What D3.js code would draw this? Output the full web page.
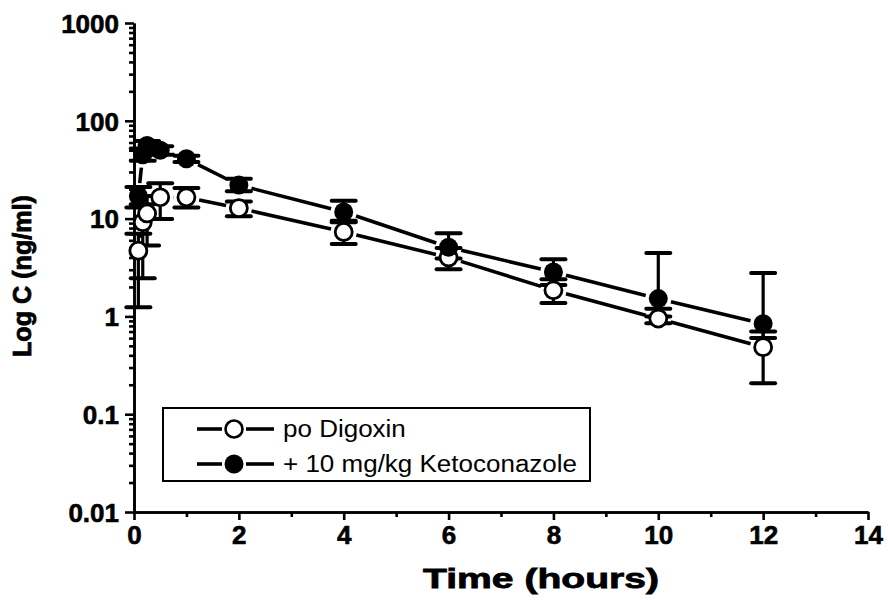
<!DOCTYPE html>
<html>
<head>
<meta charset="utf-8">
<script src="https://cdn.jsdelivr.net/npm/d3@7"></script>
<style>
  body { margin: 0; background: #fff; }
  text { font-family: "Liberation Sans", Arial, sans-serif; fill: #000; }
</style>
</head>
<body>
<div id="chart"></div>
<script>
// sampling times (hours)
var times = [0.083, 0.167, 0.25, 0.5, 1, 2, 4, 6, 8, 10, 12];

// po Digoxin (open circles)
var poMean = [4.7, 9.2, 11.3, 16.5, 16.5, 12.8, 7.3, 4.0, 1.85, 0.95, 0.485];
var poLow  = [1.24, 2.45, 5.3, 9.9, 13, 10.6, 5.5, 3.03, 1.37, 0.85, 0.207];
var poHigh = [7, 14, 17, 23, 20.5, 15, 9.5, 5.0, 2.4, 1.2, 0.7];

// + 10 mg/kg Ketoconazole (filled circles)
var ketoMean = [17, 45, 56, 50, 41, 22, 11.7, 5.1, 2.84, 1.52, 0.84];
var ketoLow  = [13, 39, 50, 45, 38, 19, 9.2, 3.9, 2.1, 1.0, 0.6];
var ketoHigh = [21, 52, 62, 55, 44, 25.5, 15.2, 7.1, 3.84, 4.46, 2.78];

var xMajor = [0, 2, 4, 6, 8, 10, 12, 14];
var xMinor = [1, 3, 5, 7, 9, 11, 13];
var yMajor = [0.01, 0.1, 1, 10, 100, 1000];
var legendLabels = ['po Digoxin', '+ 10 mg/kg Ketoconazole'];

var width = 888, height = 600;
var svg = d3.select('#chart').append('svg')
  .attr('width', width).attr('height', height);

var x = d3.scaleLinear().domain([0, 14]).range([134, 868]);
var y = d3.scaleLog().domain([0.01, 1000]).range([512, 23]);

// minor ticks on log axis: 2..9 of each decade
var yMinor = [];
yMajor.slice(0, -1).forEach(function(d){
  for (var k = 2; k < 10; k++) yMinor.push(d * k);
});

function styleAxis(g){
  g.selectAll('path, line').attr('stroke', '#000').attr('stroke-width', 2.6);
  g.selectAll('text').attr('font-size', 26).attr('font-weight', 'bold').attr('fill', '#000')
    .attr('stroke', '#000').attr('stroke-width', 0.6);
}

// y axis
svg.append('g').attr('transform', 'translate(' + x(0) + ',0)')
  .call(d3.axisLeft(y).tickValues(yMinor).tickSize(5).tickSizeOuter(0).tickFormat(''))
  .call(styleAxis);
svg.append('g').attr('transform', 'translate(' + x(0) + ',0)')
  .call(d3.axisLeft(y).tickValues(yMajor).tickSize(9).tickSizeOuter(0).tickPadding(6)
    .tickFormat(function(d){ return d3.format('~g')(d); }))
  .call(styleAxis)
  .selectAll('text').attr('dy', '0.36em');

// x axis
svg.append('g').attr('transform', 'translate(0,' + y(0.01) + ')')
  .call(d3.axisBottom(x).tickValues(xMinor).tickSize(5).tickSizeOuter(0).tickFormat(''))
  .call(styleAxis);
svg.append('g').attr('transform', 'translate(0,' + y(0.01) + ')')
  .call(d3.axisBottom(x).tickValues(xMajor).tickSize(8).tickSizeOuter(0).tickPadding(6))
  .call(styleAxis);

// axis titles
svg.append('text').attr('x', 541).attr('y', 588)
  .attr('text-anchor', 'middle').attr('font-size', 28).attr('font-weight', 'bold')
  .attr('stroke', '#000').attr('stroke-width', 0.8)
  .attr('textLength', 236).attr('lengthAdjust', 'spacingAndGlyphs')
  .text('Time (hours)');
svg.append('text').attr('transform', 'translate(31,276) rotate(-90)')
  .attr('text-anchor', 'middle').attr('font-size', 25).attr('font-weight', 'bold')
  .attr('stroke', '#000').attr('stroke-width', 0.8)
  .attr('textLength', 162).attr('lengthAdjust', 'spacingAndGlyphs')
  .text('Log C (ng/ml)');

// build series
function series(mean, lo, hi){
  return times.map(function(t, i){
    return { t: t, v: mean[i], lo: lo[i], hi: hi[i] };
  });
}
var data = [
  { name: legendLabels[0], filled: false, pts: series(poMean, poLow, poHigh) },
  { name: legendLabels[1], filled: true,  pts: series(ketoMean, ketoLow, ketoHigh) }
];

var gap = 13;
// connecting lines, broken around the markers
data.forEach(function(s){
  for (var i = 0; i < s.pts.length - 1; i++){
    var x0 = x(s.pts[i].t), y0 = y(s.pts[i].v);
    var x1 = x(s.pts[i+1].t), y1 = y(s.pts[i+1].v);
    var len = Math.hypot(x1 - x0, y1 - y0);
    if (len <= 2 * gap) continue;
    var ux = (x1 - x0) / len, uy = (y1 - y0) / len;
    svg.append('line')
      .attr('x1', x0 + ux * gap).attr('y1', y0 + uy * gap)
      .attr('x2', x1 - ux * gap).attr('y2', y1 - uy * gap)
      .attr('stroke', '#000').attr('stroke-width', 3.6);
  }
});

// error bars
data.forEach(function(s){
  var g = svg.append('g');
  g.selectAll('line.v').data(s.pts).enter().append('line')
    .attr('x1', function(d){ return x(d.t); }).attr('x2', function(d){ return x(d.t); })
    .attr('y1', function(d){ return y(d.lo); }).attr('y2', function(d){ return y(d.hi); })
    .attr('stroke', '#000').attr('stroke-width', 3.2);
  ['lo', 'hi'].forEach(function(k){
    g.selectAll('line.' + k).data(s.pts).enter().append('line')
      .attr('x1', function(d){ return x(d.t) - 12; }).attr('x2', function(d){ return x(d.t) + 12; })
      .attr('y1', function(d){ return y(d[k]); }).attr('y2', function(d){ return y(d[k]); })
      .attr('stroke', '#000').attr('stroke-width', 4).attr('stroke-linecap', 'round');
  });
});

// markers
data.forEach(function(s){
  svg.append('g').selectAll('circle').data(s.pts).enter().append('circle')
    .attr('cx', function(d){ return x(d.t); })
    .attr('cy', function(d){ return y(d.v); })
    .attr('r', s.filled ? 9.5 : 8.5)
    .attr('fill', s.filled ? '#000' : '#fff')
    .attr('stroke', '#000').attr('stroke-width', s.filled ? 0 : 2.8);
});

// legend
var lg = svg.append('g');
lg.append('rect').attr('x', 163).attr('y', 408).attr('width', 427).attr('height', 73)
  .attr('fill', '#fff').attr('stroke', '#000').attr('stroke-width', 2);
data.forEach(function(s, i){
  var cy = 429 + i * 35;
  lg.append('line').attr('x1', 197).attr('x2', 222).attr('y1', cy).attr('y2', cy)
    .attr('stroke', '#000').attr('stroke-width', 3.6);
  lg.append('line').attr('x1', 246).attr('x2', 274).attr('y1', cy).attr('y2', cy)
    .attr('stroke', '#000').attr('stroke-width', 3.6);
  lg.append('circle').attr('cx', 234).attr('cy', cy)
    .attr('r', s.filled ? 9.5 : 8.5)
    .attr('fill', s.filled ? '#000' : '#fff')
    .attr('stroke', '#000').attr('stroke-width', s.filled ? 0 : 2.6);
  var t = lg.append('text').attr('x', 283).attr('y', cy + 8)
    .attr('font-size', 23).text(s.name);
  var w = t.node().getComputedTextLength();
  t.attr('textLength', w * 1.13).attr('lengthAdjust', 'spacingAndGlyphs');
});
</script>
</body>
</html>
